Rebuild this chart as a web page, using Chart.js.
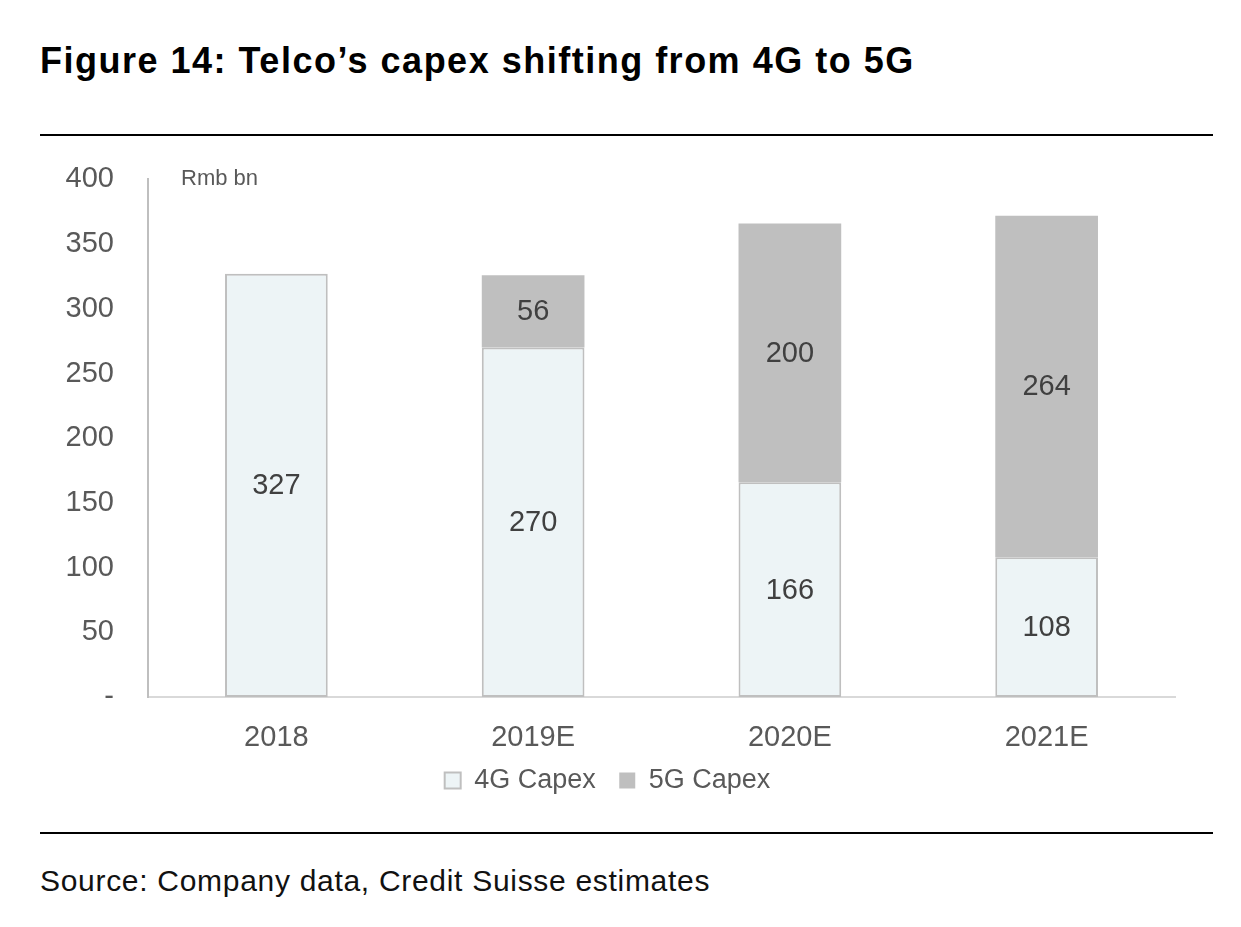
<!DOCTYPE html>
<html>
<head>
<meta charset="utf-8">
<script src="https://cdn.jsdelivr.net/npm/chart.js@4.4.1/dist/chart.umd.min.js"></script>
<style>
  body { margin: 0; background: #fff; width: 1241px; height: 927px; position: relative; font-family: "Liberation Sans", Arial, sans-serif; }
  .title { position: absolute; left: 40px; top: 40px; font-size: 36px; font-weight: bold; color: #000; letter-spacing: 1.5px; }
  .rule { position: absolute; left: 40px; width: 1173px; height: 2px; background: #000; }
  .source { position: absolute; left: 40px; top: 864px; font-size: 30px; color: #111; letter-spacing: 0.7px; }
  .chartBox { position: absolute; left: 40px; top: 135px; width: 1173px; height: 695px; }
</style>
</head>
<body>
<div class="title">Figure 14: Telco’s capex shifting from 4G to 5G</div>
<div class="rule" style="top:134px"></div>
<div class="chartBox"><canvas id="chart"></canvas></div>
<div class="rule" style="top:832px"></div>
<div class="source">Source: Company data, Credit Suisse estimates</div>
<script>
// Datos del gráfico
const categories = ['2018', '2019E', '2020E', '2021E'];
const capex4G = [327, 270, 166, 108];
const capex5G = [0, 56, 200, 264];
const yTicks = [0, 50, 100, 150, 200, 250, 300, 350, 400];

const textColor = '#595959';
const font = 'Liberation Sans';

// Etiquetas dentro de cada segmento
const segmentLabels = {
    id: 'segmentLabels',
    afterDatasetsDraw(chart) {
        const c = chart.ctx;
        c.save();
        c.font = '29px ' + font;
        c.fillStyle = '#404040';
        c.textAlign = 'center';
        c.textBaseline = 'middle';
        chart.data.datasets.forEach((ds, i) => {
            chart.getDatasetMeta(i).data.forEach((bar, j) => {
                const v = ds.data[j];
                if (!v) return;
                const yMid = (bar.y + bar.base) / 2;
                c.fillText(String(v), bar.x, yMid + 1);
            });
        });
        // unidad
        c.font = '22px ' + font;
        c.fillStyle = textColor;
        c.textAlign = 'left';
        c.fillText('Rmb bn', chart.chartArea.left + 33, chart.chartArea.top);
        c.restore();
    }
};

const ctx = document.getElementById('chart').getContext('2d');
new Chart(ctx, {
    type: 'bar',
    data: {
        labels: categories,
        datasets: [{
            label: '4G Capex',
            data: capex4G,
            backgroundColor: '#EDF4F6',
            borderColor: '#BFBFBF',
            borderWidth: 2,
            borderSkipped: false
        }, {
            label: '5G Capex',
            data: capex5G,
            backgroundColor: '#BFBFBF',
            borderWidth: 0
        }]
    },
    options: {
        responsive: true,
        maintainAspectRatio: false,
        animation: false,
        devicePixelRatio: 1,
        layout: { padding: { top: 31, right: 38, left: 0, bottom: 26 } },
        datasets: { bar: { barPercentage: 0.4, categoryPercentage: 1 } },
        scales: {
            x: {
                stacked: true,
                afterFit(axis) { axis.height = 60; },
                grid: { display: false, drawTicks: false },
                border: { color: '#D9D9D9', width: 2 },
                ticks: { color: textColor, font: { family: font, size: 29 }, padding: 24 }
            },
            y: {
                stacked: true,
                min: 0,
                max: 400,
                afterBuildTicks(axis) { axis.ticks = yTicks.map(v => ({ value: v })); },
                afterFit(axis) { axis.width = 108; },
                grid: { display: false, drawTicks: true, tickLength: 7, tickColor: '#BFBFBF', tickWidth: 2, drawOnChartArea: false },
                border: { color: '#BFBFBF', width: 2 },
                ticks: {
                    color: textColor,
                    font: { family: font, size: 29 },
                    padding: 27,
                    callback: v => v === 0 ? '-' : v
                }
            }
        },
        plugins: {
            legend: {
                position: 'bottom',
                labels: {
                    color: textColor,
                    font: { family: font, size: 27 },
                    boxWidth: 16,
                    boxHeight: 16,
                    padding: 10,
                    // más espacio entre las dos entradas
                    generateLabels(chart) {
                        const items = Chart.defaults.plugins.legend.labels.generateLabels(chart);
                        items[0].text += '\u2002';
                        return items;
                    }
                }
            },
            tooltip: { enabled: false }
        }
    },
    plugins: [segmentLabels]
});
</script>
</body>
</html>
